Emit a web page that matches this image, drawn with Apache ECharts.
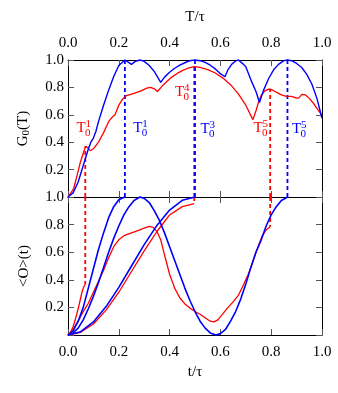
<!DOCTYPE html>
<html><head><meta charset="utf-8">
<script src="https://cdn.jsdelivr.net/npm/echarts@6/dist/echarts.min.js"></script>
<style>html,body{margin:0;padding:0;background:#fff}#c{width:338px;height:393px}</style>
</head><body><div id="c"></div>
<script>
// ---- top panel: G0(T) ----
var gBlueT = [0,0.02,0.04,0.06,0.08,0.09,0.10,0.11,0.12,0.14,0.16,0.18,0.20,0.224,0.237,0.25,0.265,0.283,0.30,0.32,0.34,0.365,0.38,0.40,0.42,0.44,0.46,0.48,0.50,0.52,0.54,0.56,0.58,0.60,0.618,0.63,0.645,0.66,0.671,0.69,0.70,0.72,0.74,0.754,0.77,0.79,0.81,0.83,0.85,0.864,0.88,0.90,0.92,0.94,0.96,0.98,1.0];
var gBlueV = [0,0.03,0.11,0.23,0.35,0.40,0.43,0.48,0.55,0.67,0.78,0.88,0.96,1.0,0.985,0.968,0.99,1.0,0.99,0.96,0.915,0.837,0.875,0.91,0.94,0.963,0.98,0.995,1.0,0.995,0.983,0.962,0.935,0.9,0.878,0.93,0.97,0.993,1.0,0.97,0.95,0.855,0.77,0.69,0.78,0.865,0.93,0.97,0.995,1.0,0.995,0.975,0.945,0.895,0.825,0.72,0.575];
var gRedT = [0,0.022,0.036,0.049,0.062,0.07,0.08,0.088,0.10,0.12,0.14,0.16,0.175,0.185,0.20,0.215,0.23,0.26,0.29,0.31,0.325,0.34,0.352,0.37,0.39,0.41,0.43,0.45,0.47,0.497,0.52,0.55,0.58,0.61,0.64,0.67,0.70,0.728,0.74,0.75,0.76,0.775,0.79,0.80,0.82,0.84,0.86,0.88,0.90,0.908,0.921,0.935,0.95,0.97,0.985,1.0];
var gRedV = [0,0.06,0.16,0.256,0.33,0.37,0.355,0.338,0.352,0.40,0.47,0.55,0.585,0.60,0.67,0.715,0.74,0.757,0.777,0.795,0.8,0.79,0.77,0.808,0.845,0.877,0.902,0.922,0.938,0.952,0.946,0.93,0.905,0.868,0.82,0.755,0.67,0.565,0.63,0.69,0.74,0.775,0.787,0.786,0.765,0.745,0.735,0.735,0.722,0.722,0.749,0.745,0.72,0.675,0.635,0.595];

// ---- bottom panel: <O>(t) trajectories ----
var oBlue1T = [0,0.02,0.04,0.06,0.08,0.10,0.12,0.14,0.16,0.18,0.20,0.224];
var oBlue1V = [0,0.03,0.10,0.20,0.34,0.48,0.62,0.74,0.85,0.93,0.98,1.0];
var oBlue3T = [0,0.05,0.10,0.15,0.20,0.25,0.30,0.35,0.40,0.45,0.50];
var oBlue3V = [0,0.024,0.095,0.206,0.345,0.5,0.655,0.794,0.905,0.976,1.0];
var oBlue5T = [0,0.02,0.04,0.06,0.08,0.10,0.12,0.14,0.16,0.18,0.20,0.22,0.24,0.26,0.283,0.30,0.32,0.34,0.36,0.38,0.40,0.42,0.44,0.46,0.48,0.50,0.52,0.54,0.56,0.582,0.60,0.62,0.64,0.66,0.68,0.70,0.72,0.74,0.76,0.78,0.80,0.82,0.84,0.865];
var oBlue5V = [0,0.015,0.05,0.11,0.19,0.28,0.38,0.49,0.60,0.70,0.79,0.87,0.93,0.975,1.0,0.99,0.96,0.90,0.83,0.74,0.64,0.54,0.44,0.34,0.25,0.17,0.10,0.05,0.015,0,0.01,0.04,0.10,0.17,0.26,0.37,0.49,0.60,0.685,0.79,0.87,0.93,0.975,1.0];
var oRed1T = [0,0.01,0.02,0.03,0.04,0.05,0.055,0.06,0.068];
var oRed1V = [0,0.02,0.06,0.12,0.19,0.27,0.31,0.34,0.37];
var oRed4T = [0,0.05,0.10,0.15,0.20,0.25,0.30,0.35,0.40,0.45,0.497];
var oRed4V = [0,0.02,0.08,0.18,0.31,0.46,0.61,0.75,0.87,0.93,0.952];
var oRed5T = [0,0.02,0.04,0.06,0.08,0.10,0.12,0.14,0.16,0.18,0.20,0.22,0.25,0.28,0.30,0.32,0.335,0.35,0.365,0.38,0.40,0.42,0.44,0.46,0.48,0.50,0.52,0.54,0.56,0.575,0.59,0.61,0.63,0.65,0.67,0.69,0.71,0.73,0.75,0.765,0.78,0.79,0.796];
var oRed5V = [0,0.04,0.10,0.17,0.23,0.31,0.39,0.47,0.56,0.64,0.69,0.72,0.74,0.76,0.775,0.787,0.78,0.75,0.69,0.58,0.44,0.34,0.27,0.225,0.195,0.17,0.15,0.125,0.1,0.095,0.11,0.155,0.2,0.24,0.285,0.36,0.44,0.545,0.65,0.72,0.76,0.775,0.786];

// ---- dashed markers (T0 values and their G0 values) ----
var redMarkT = [0.068,0.497,0.796];
var redMarkG = [0.37,0.952,0.786];
var blueMarkT = [0.224,0.5,0.864];
var blueMarkG = [1.0,1.0,1.0];

// ---- labels T0^n ----
var redLabels = [[0.033,0.5,'1'],[0.421,0.766,'4'],[0.73,0.5,'5']];
var blueLabels = [[0.257,0.5,'1'],[0.522,0.493,'3'],[0.882,0.493,'5']];

var FONT = 'Liberation Serif';
var RED = '#ff0000', BLUE = '#0000ff';

function pairs(xs, ys){ return xs.map(function(x,i){return [x, ys[i]];}); }

var chart = echarts.init(document.getElementById('c'), null, {renderer:'canvas'});
function axisBase(extra){
  var o = {type:'value', min:0, max:1, interval:0.2,
    axisLine:{show:true, onZero:false, lineStyle:{color:'#000', width:1}},
    axisTick:{show:true, inside:true, length:6, lineStyle:{color:'#555', width:1}},
    splitLine:{show:false},
    axisLabel:{show:false}};
  for (var k in extra) o[k] = extra[k];
  return o;
}
var lab = function(margin, hideZero){ return {show:true, margin:margin, color:'#000', fontFamily:FONT, fontSize:15,
  formatter:function(v){ if(hideZero && v===0) return ''; return v.toFixed(1);} }; };

var series = [];
function line(xs, ys, color, grid, w){
  series.push({type:'line', xAxisIndex:grid*2, yAxisIndex:grid*2, data:pairs(xs,ys), showSymbol:false, symbol:'none',
    lineStyle:{color:color, width:w||1.4}, z:3, clip:false});
}
function dash(x, y0, y1, color, grid){
  series.push({type:'line', xAxisIndex:grid*2, yAxisIndex:grid*2, data:[[x,y0],[x,y1]], showSymbol:false, symbol:'none',
    lineStyle:{color:color, width:1.8, type:[4,3]}, z:2});
}
line(gRedT, gRedV, RED, 0, 1.3);
line(gBlueT, gBlueV, BLUE, 0, 1.4);
line(oRed1T, oRed1V, RED, 1, 1.3);
line(oRed4T, oRed4V, RED, 1, 1.3);
line(oRed5T, oRed5V, RED, 1, 1.3);
line(oBlue1T, oBlue1V, BLUE, 1, 1.6);
line(oBlue3T, oBlue3V, BLUE, 1, 1.6);
line(oBlue5T, oBlue5V, BLUE, 1, 1.6);
redMarkT.forEach(function(t,i){ dash(t, 0, redMarkG[i], RED, 0); dash(t, 1, redMarkG[i], RED, 1); });
blueMarkT.forEach(function(t,i){ dash(t, 0, blueMarkG[i], BLUE, 0); });

function labelSeries(data, color){
  series.push({type:'custom', xAxisIndex:0, yAxisIndex:0, data:data, z:5,
    renderItem:function(params, api){
      var p = api.coord([api.value(0), api.value(1)]);
      var sup = data[params.dataIndex][2];
      return {type:'group', children:[
        {type:'text', x:p[0], y:p[1], style:{text:'T', fill:color, font:'15px "'+FONT+'"', align:'left', verticalAlign:'middle', textAlign:'left', textVerticalAlign:'middle'}},
        {type:'text', x:p[0]+8.5, y:p[1]+5, style:{text:'0', fill:color, font:'11px "'+FONT+'"', align:'left', verticalAlign:'middle', textAlign:'left', textVerticalAlign:'middle'}},
        {type:'text', x:p[0]+9, y:p[1]-4, style:{text:sup, fill:color, font:'11px "'+FONT+'"', align:'left', verticalAlign:'middle', textAlign:'left', textVerticalAlign:'middle'}}
      ]};
    }});
}
labelSeries(redLabels, RED);
labelSeries(blueLabels, BLUE);

var nameStyle = {color:'#000', fontFamily:FONT, fontSize:15, rich:{sub:{fontSize:11, fontFamily:FONT, color:'#000', verticalAlign:'bottom', padding:[6,0,0,0]}}};

chart.setOption({
  animation:false,
  backgroundColor:'#fff',
  grid:[{left:68, top:60, width:254, height:137}, {left:68, top:197, width:254, height:138}],
  xAxis:[
    axisBase({gridIndex:0, position:'top', axisLabel:lab(9,false), name:'T/τ', nameLocation:'middle', nameGap:35, nameTextStyle:nameStyle}),
    axisBase({gridIndex:0, position:'bottom'}),
    axisBase({gridIndex:1, position:'bottom', axisLabel:lab(10,false), name:'t/τ', nameLocation:'middle', nameGap:30, nameTextStyle:nameStyle}),
    axisBase({gridIndex:1, position:'top'})
  ],
  yAxis:[
    axisBase({gridIndex:0, position:'left', axisLabel:lab(4,true), name:'G{sub|0}(T)', nameLocation:'middle', nameGap:36, nameRotate:90, nameTextStyle:nameStyle}),
    axisBase({gridIndex:0, position:'right'}),
    axisBase({gridIndex:1, position:'left', axisLabel:lab(4,true), name:'<O>(t)', nameLocation:'middle', nameGap:36, nameRotate:90, nameTextStyle:nameStyle}),
    axisBase({gridIndex:1, position:'right'})
  ],
  series:series
});
</script></body></html>
